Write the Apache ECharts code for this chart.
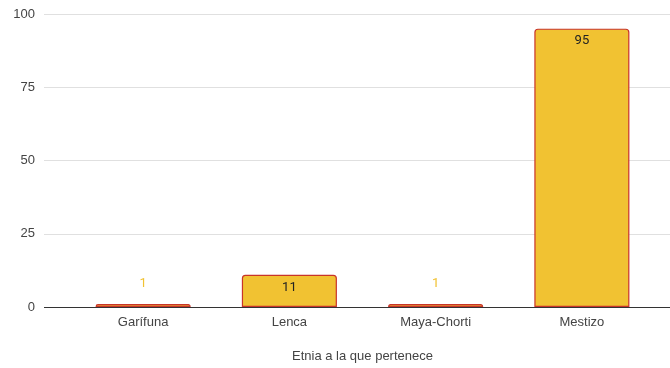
<!DOCTYPE html>
<html><head><meta charset="utf-8">
<script src="https://cdn.jsdelivr.net/npm/echarts@6/dist/echarts.min.js"></script>
<style>html,body{margin:0;padding:0;background:#fff}#c{width:670px;height:368px}</style>
</head><body><div id="c"></div>
<script>
const categories = ['Garífuna', 'Lenca', 'Maya-Chorti', 'Mestizo'];
const values = [1, 11, 1, 95];
const yTicks = [0, 25, 50, 75, 100];
const xTitle = 'Etnia a la que pertenece';

const chart = echarts.init(document.getElementById('c'));
const font = 'Arial, "Liberation Sans", sans-serif';
chart.setOption({
  animation: false,
  grid: [
    {left: 44, right: 0, top: 14, bottom: 61},
    {left: 70, right: 15, top: 14, bottom: 61}
  ],
  xAxis: [
    {gridIndex: 0, type: 'value', show: false, min: 0, max: 1},
    {gridIndex: 1, type: 'category', data: categories,
     axisLine: {show: false}, axisTick: {show: false},
     axisLabel: {color: '#444', fontSize: 13, fontFamily: font, margin: 9},
     name: xTitle, nameLocation: 'middle', nameGap: 43,
     nameTextStyle: {color: '#444', fontSize: 13, fontFamily: font}}
  ],
  yAxis: [
    {gridIndex: 0, type: 'value', min: yTicks[0], max: yTicks[yTicks.length-1], interval: 25,
     axisLine: {show: false}, axisTick: {show: false},
     axisLabel: {color: '#444', fontSize: 13, fontFamily: font, margin: 9},
     splitLine: {lineStyle: {color: ['#333', '#e0e0e0', '#e0e0e0', '#e0e0e0', '#e0e0e0'], width: 1}}},
    {gridIndex: 1, type: 'value', min: yTicks[0], max: yTicks[yTicks.length-1], interval: 25,
     show: false}
  ],
  series: [{
    type: 'bar', xAxisIndex: 1, yAxisIndex: 1,
    data: values.map(v => ({
      value: v,
      label: v < 5
        ? {show: true, position: 'top', distance: 14, color: '#f1c232'}
        : {show: true, position: 'insideTop', distance: 6, color: '#222'}
    })),
    barWidth: '65%',
    itemStyle: {color: '#f1c232', borderColor: '#c8342a', borderWidth: 1.2, borderRadius: [3, 3, 0, 0]},
    label: {fontSize: 13, fontFamily: 'Roboto, sans-serif'}
  }]
});
</script></body></html>
